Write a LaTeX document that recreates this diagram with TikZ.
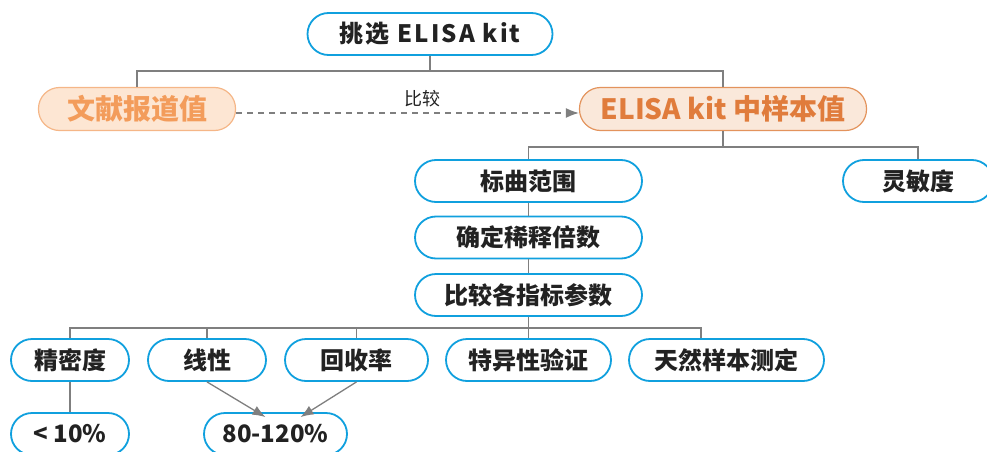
\documentclass[tikz,border=0pt]{standalone}
\usepackage{fontspec}
\setmainfont{Noto Sans CJK SC}
\newfontfamily\spaced[LetterSpace=9]{Noto Sans CJK SC}
\usetikzlibrary{arrows.meta}
\definecolor{bblue}{HTML}{10A0DE}
\definecolor{lgray}{HTML}{7F7F7F}
\definecolor{tdark}{HTML}{222222}
\definecolor{ofill}{HTML}{FDE6D3}
\definecolor{odraw}{HTML}{F5B687}
\definecolor{otext}{HTML}{F39C5B}
\definecolor{efill}{HTML}{FAE8DA}
\definecolor{edraw}{HTML}{E3935C}
\definecolor{etext}{HTML}{E07C3C}
\tikzset{
  box/.style={draw=bblue, line width=1.8pt, fill=white, rounded corners=21pt,
    minimum height=42pt, inner sep=0pt, text=tdark,
    font=\fontsize{24}{28}\selectfont\bfseries},
  obox/.style={draw=odraw, line width=1.2pt, fill=ofill, rounded corners=21pt,
    minimum height=43pt, inner sep=0pt, text=otext,
    font=\fontsize{28}{32}\selectfont\bfseries},
  ebox/.style={draw=edraw, line width=1.2pt, fill=efill, rounded corners=21pt,
    minimum height=43pt, inner sep=0pt, text=etext,
    font=\fontsize{28}{32}\selectfont\bfseries},
  conn/.style={draw=lgray, line width=1.3pt},
  arr/.style={draw=lgray, line width=1.3pt, -{Latex[length=13pt,width=10pt]}},
}
\begin{document}
\begin{tikzpicture}[x=1pt,y=-1pt]
\useasboundingbox (0,0) rectangle (987,452);
\clip (0,0) rectangle (987,452);
% nodes
\node[box, minimum width=245pt, font=\spaced\fontsize{24}{28}\selectfont\bfseries] (top) at (430,34) {挑选 ELISA kit};
\node[obox, minimum width=197pt] (lit) at (137,109) {文献报道值};
\node[ebox, minimum width=287pt] (elisa) at (723,109) {ELISA kit 中样本值};
\node[box, minimum width=227pt] (bq) at (528.5,181) {标曲范围};
\node[box, minimum width=150pt] (lmd) at (918,181) {灵敏度};
\node[box, minimum width=227pt] (qd) at (528.5,237.5) {确定稀释倍数};
\node[box, minimum width=227pt] (bj) at (528.5,295) {比较各指标参数};
\node[box, minimum width=118pt] (jmd) at (70,360) {精密度};
\node[box, minimum width=118pt] (xx) at (207,360) {线性};
\node[box, minimum width=143pt] (hsl) at (356.5,360) {回收率};
\node[box, minimum width=165pt] (tyx) at (528.5,360) {特异性验证};
\node[box, minimum width=195pt] (trz) at (726.5,360) {天然样本测定};
\node[box, minimum width=118pt] (lt) at (70,434) {< 10\%};
\node[box, minimum width=143pt] (rr) at (275.5,434) {80-120\%};
% connectors
\draw[conn] (top.south) -- (top.south |- 0,71) coordinate (b1);
\draw[conn] (lit.north) |- (b1);
\draw[conn] (elisa.north) |- (b1);
\draw[conn] (elisa.south) -- (elisa.south |- 0,147) coordinate (b2);
\draw[conn] (bq.north) |- (b2);
\draw[conn] (lmd.north) |- (b2);
\draw[conn] (bq.south) -- (qd.north);
\draw[conn] (qd.south) -- (bj.north);
\draw[conn] (bj.south) -- (tyx.north);
\coordinate (b3) at (528.5,328);
\draw[conn] (jmd.north) |- (b3);
\draw[conn] (xx.north) |- (b3);
\draw[conn] (hsl.north) |- (b3);
\draw[conn] (trz.north -| 701,0) |- (b3);
\draw[conn] (jmd.south) -- (lt.north);
\draw[arr] (xx.south) -- ([xshift=-10pt,yshift=-5pt]rr.north);
\draw[arr] (hsl.south) -- ([xshift=25pt,yshift=-5pt]rr.north);
\draw[arr, dashed, dash pattern=on 6pt off 5pt] (lit.east |- 0,113) -- (elisa.west |- 0,113);
\node[text=tdark, font=\fontsize{18}{20}\selectfont] (cmp) at (422,99) {比较};
\end{tikzpicture}
\end{document}
